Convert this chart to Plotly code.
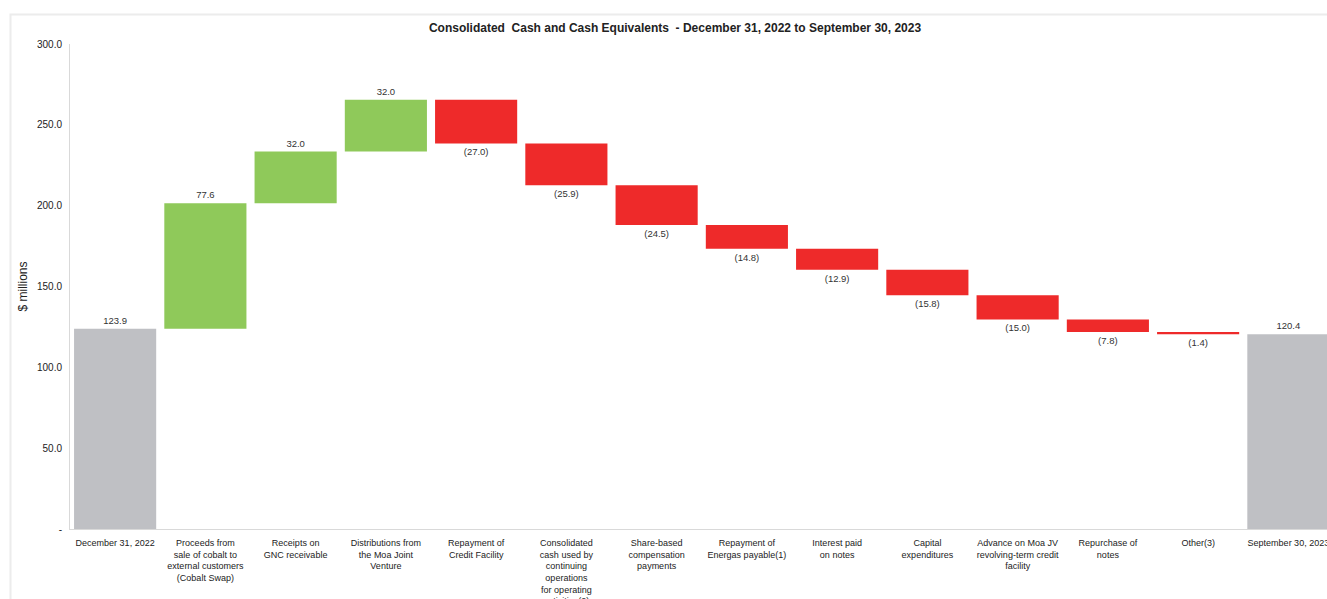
import plotly.graph_objects as go

categories = [
    "December 31, 2022",
    "Proceeds from<br>sale of cobalt to<br>external customers<br>(Cobalt Swap)",
    "Receipts on<br>GNC receivable",
    "Distributions from<br>the Moa Joint<br>Venture",
    "Repayment of<br>Credit Facility",
    "Consolidated<br>cash used by<br>continuing<br>operations<br>for operating<br>activities(2)",
    "Share-based<br>compensation<br>payments",
    "Repayment of<br>Energas payable(1)",
    "Interest paid<br>on notes",
    "Capital<br>expenditures",
    "Advance on Moa JV<br>revolving-term credit<br>facility",
    "Repurchase of<br>notes",
    "Other(3)",
    "September 30, 2023",
]
values = [123.9, 77.6, 32.0, 32.0, -27.0, -25.9, -24.5, -14.8, -12.9, -15.8, -15.0, -7.8, -1.4, 120.4]
measures = ["absolute"] + ["relative"] * 12 + ["total"]

y_tickvals = [0, 50, 100, 150, 200, 250, 300]
y_ticktext = ["-", "50.0", "100.0", "150.0", "200.0", "250.0", "300.0"]

labels = [f"({abs(v):.1f})" if v < 0 else f"{v:.1f}" for v in values]

GREEN = "#8fc95a"
RED = "#ee2a2a"
GRAY = "#bfc0c4"
FONT = "Liberation Sans, Arial, sans-serif"

fig = go.Figure(go.Waterfall(
    x=categories,
    y=values,
    measure=measures,
    text=labels,
    textposition="outside",
    textfont=dict(size=9.5, color="#333333", family=FONT),
    increasing=dict(marker=dict(color=GREEN, line=dict(width=0))),
    decreasing=dict(marker=dict(color=RED, line=dict(width=0))),
    totals=dict(marker=dict(color=GRAY, line=dict(width=0))),
    connector=dict(visible=False),
    width=[0.91] * len(values),
    cliponaxis=False,
))

W, H = 1327, 599
ml, mr, mt, mb = 70, 0, 44, 70
pw = W - ml - mr
ph = H - mt - mb

def px_x(p):
    return (p - ml) / pw

def px_y(p):
    return (H - mb - p) / ph

fig.update_layout(
    width=W, height=H,
    margin=dict(l=ml, r=mr, t=mt, b=mb, pad=0, autoexpand=False),
    paper_bgcolor="white",
    plot_bgcolor="white",
    showlegend=False,
    font=dict(family=FONT, size=10, color="#222222"),
    title=dict(
        text="<b>Consolidated  Cash and Cash Equivalents  - December 31, 2022 to September 30, 2023</b>",
        x=675 / W, xref="container", xanchor="center",
        y=1 - 28 / H, yref="container", yanchor="middle",
        font=dict(size=12, color="#222222", family=FONT),
    ),
    xaxis=dict(
        type="category",
        range=[-0.5, -0.5 + pw / 90.25],
        showgrid=False,
        showline=True, linecolor="#d9d9d9", linewidth=1,
        ticks="", tickfont=dict(size=9, color="#222222"),
        ticklabelstandoff=5,
        automargin=False,
        fixedrange=True,
    ),
    yaxis=dict(
        range=[0, 300],
        tickvals=y_tickvals, ticktext=y_ticktext,
        showgrid=False, zeroline=False,
        showline=True, linecolor="#d9d9d9", linewidth=1,
        ticks="", tickfont=dict(size=10, color="#222222"),
        ticklabelstandoff=5,
        automargin=False,
        title=dict(text="$ millions", font=dict(size=12, color="#222222"), standoff=6),
    ),
    shapes=[dict(
        type="rect", xref="paper", yref="paper",
        x0=px_x(10.5), x1=px_x(1400), y0=px_y(700), y1=px_y(14.5),
        line=dict(color="#ececec", width=2), fillcolor="rgba(0,0,0,0)",
        layer="below",
    )],
)

fig.write_html("out.html")
